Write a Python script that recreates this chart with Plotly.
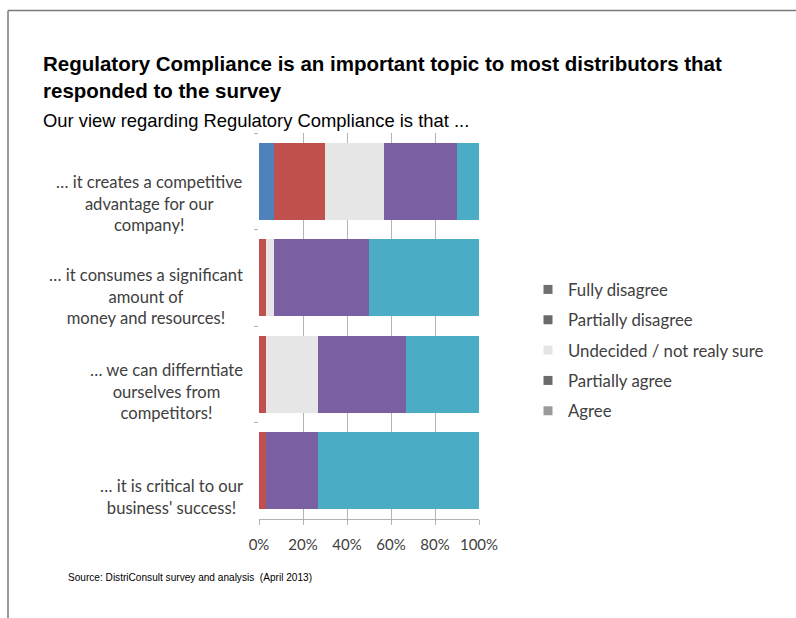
import plotly.graph_objects as go

# ---- data ----
statements = [
    "… it creates a competitive<br>advantage for our<br>company!",
    "… it consumes a significant<br>amount of<br>money and resources!",
    "… we can differntiate<br>ourselves from<br>competitors!",
    "… it is critical to our<br>business' success!",
]
cat_ids = ["s1", "s2", "s3", "s4"]
series_names = ["Fully disagree", "Partially disagree", "Undecided / not realy sure",
                "Partially agree", "Agree"]
fully_disagree = [6.7, 0.0, 0.0, 0.0]
partially_disagree = [23.3, 3.3, 3.3, 3.3]
undecided = [26.7, 3.3, 23.3, 0.0]
partially_agree = [33.3, 43.3, 40.0, 23.3]
agree = [10.0, 50.0, 33.3, 73.3]
x_ticks = [0, 20, 40, 60, 80, 100]
x_tick_labels = ["0%", "20%", "40%", "60%", "80%", "100%"]

bar_colors = ["#4F81BD", "#C0504D", "#E6E6E6", "#7B5FA3", "#4BACC6"]
legend_colors = ["#6f6f6f", "#6a6a6a", "#e4e4e4", "#6c6c6c", "#9a9a9a"]
label_yshifts = [-22, -19, -17, -26]

W, H = 796, 618
L, R, T, B = 259, 479, 133, 519
PW, PH = R - L, B - T


def px_x(px):
    return (px - L) / PW


def px_y(py):
    return (B - py) / PH


fig = go.Figure()
for name, vals, col in zip(series_names,
                           [fully_disagree, partially_disagree, undecided, partially_agree, agree],
                           bar_colors):
    fig.add_trace(go.Bar(y=cat_ids, x=vals, orientation="h", name=name,
                         marker=dict(color=col, line=dict(width=0)),
                         showlegend=False))

# legend entries (grey squares as in the reference)
for i, (name, col) in enumerate(zip(series_names, legend_colors)):
    fig.add_trace(go.Scatter(x=[None], y=[None], mode="markers", name=name,
                             legendgroup=f"g{i}",
                             marker=dict(symbol="square", size=9, color=col)))

label_font = dict(family="Lato, Open Sans, sans-serif", size=16.6, color="#404040")

annotations = []
for cid, txt, ys in zip(cat_ids, statements, label_yshifts):
    annotations.append(dict(xref="paper", yref="y", x=0, y=cid, text=txt,
                            showarrow=False, xanchor="right", yanchor="middle",
                            align="center", xshift=-14, yshift=ys, font=label_font))

annotations.append(dict(xref="paper", yref="paper", x=px_x(41), y=px_y(77),
                        text="<b>Regulatory Compliance is an important topic to most distributors that<br>responded to the survey</b>",
                        showarrow=False, xanchor="left", yanchor="middle", align="left",
                        font=dict(family="Liberation Sans, Arial", size=20.5, color="#000000")))
annotations.append(dict(xref="paper", yref="paper", x=px_x(41), y=px_y(121),
                        text="Our view regarding Regulatory Compliance is that ...",
                        showarrow=False, xanchor="left", yanchor="middle", align="left",
                        font=dict(family="Liberation Sans, Arial", size=18.4, color="#000000")))
annotations.append(dict(xref="paper", yref="paper", x=px_x(66), y=px_y(577),
                        text="Source: DistriConsult survey and analysis  (April 2013)",
                        showarrow=False, xanchor="left", yanchor="middle", align="left",
                        font=dict(family="Liberation Sans, Arial", size=10.1, color="#000000")))

shapes = [
    dict(type="line", xref="paper", yref="paper", x0=px_x(8), x1=px_x(796), y0=px_y(10.5), y1=px_y(10.5),
         line=dict(color="#7a7a7a", width=1.5)),
    dict(type="line", xref="paper", yref="paper", x0=px_x(8), x1=px_x(8), y0=px_y(10.5), y1=px_y(618),
         line=dict(color="#7a7a7a", width=1.5)),
]

fig.update_layout(
    width=W, height=H, autosize=False,
    margin=dict(l=L, r=W - R, t=T, b=H - B, pad=0, autoexpand=False),
    paper_bgcolor="white", plot_bgcolor="white",
    barmode="stack", bargap=0.2,
    showlegend=True,
    legend=dict(x=px_x(528), y=px_y(272), xanchor="left", yanchor="top",
                font=dict(family="Lato, Open Sans, sans-serif", size=16.8, color="#404040"),
                tracegroupgap=5.5, bgcolor="rgba(0,0,0,0)", itemwidth=30),
    annotations=annotations,
    shapes=shapes,
)
fig.update_xaxes(range=[0, 100], tickvals=x_ticks, ticktext=x_tick_labels,
                 showgrid=True, gridcolor="#b3b3b3", gridwidth=1,
                 showline=True, linecolor="#b3b3b3", linewidth=1,
                 ticks="outside", ticklen=5, tickcolor="#b3b3b3",
                 ticklabelstandoff=7, automargin=False,
                 zeroline=False,
                 tickfont=dict(family="Lato, Open Sans, sans-serif", size=15, color="#404040"),
                 fixedrange=True)
fig.update_yaxes(categoryorder="array", categoryarray=cat_ids,
                 range=[len(cat_ids) - 0.5, -0.5], autorange=False,
                 showticklabels=False, ticks="outside", ticklen=4, tickcolor="#b3b3b3",
                 tickson="boundaries", showgrid=False, showline=False, zeroline=False,
                 automargin=False, fixedrange=True)

fig.write_html("out.html")
